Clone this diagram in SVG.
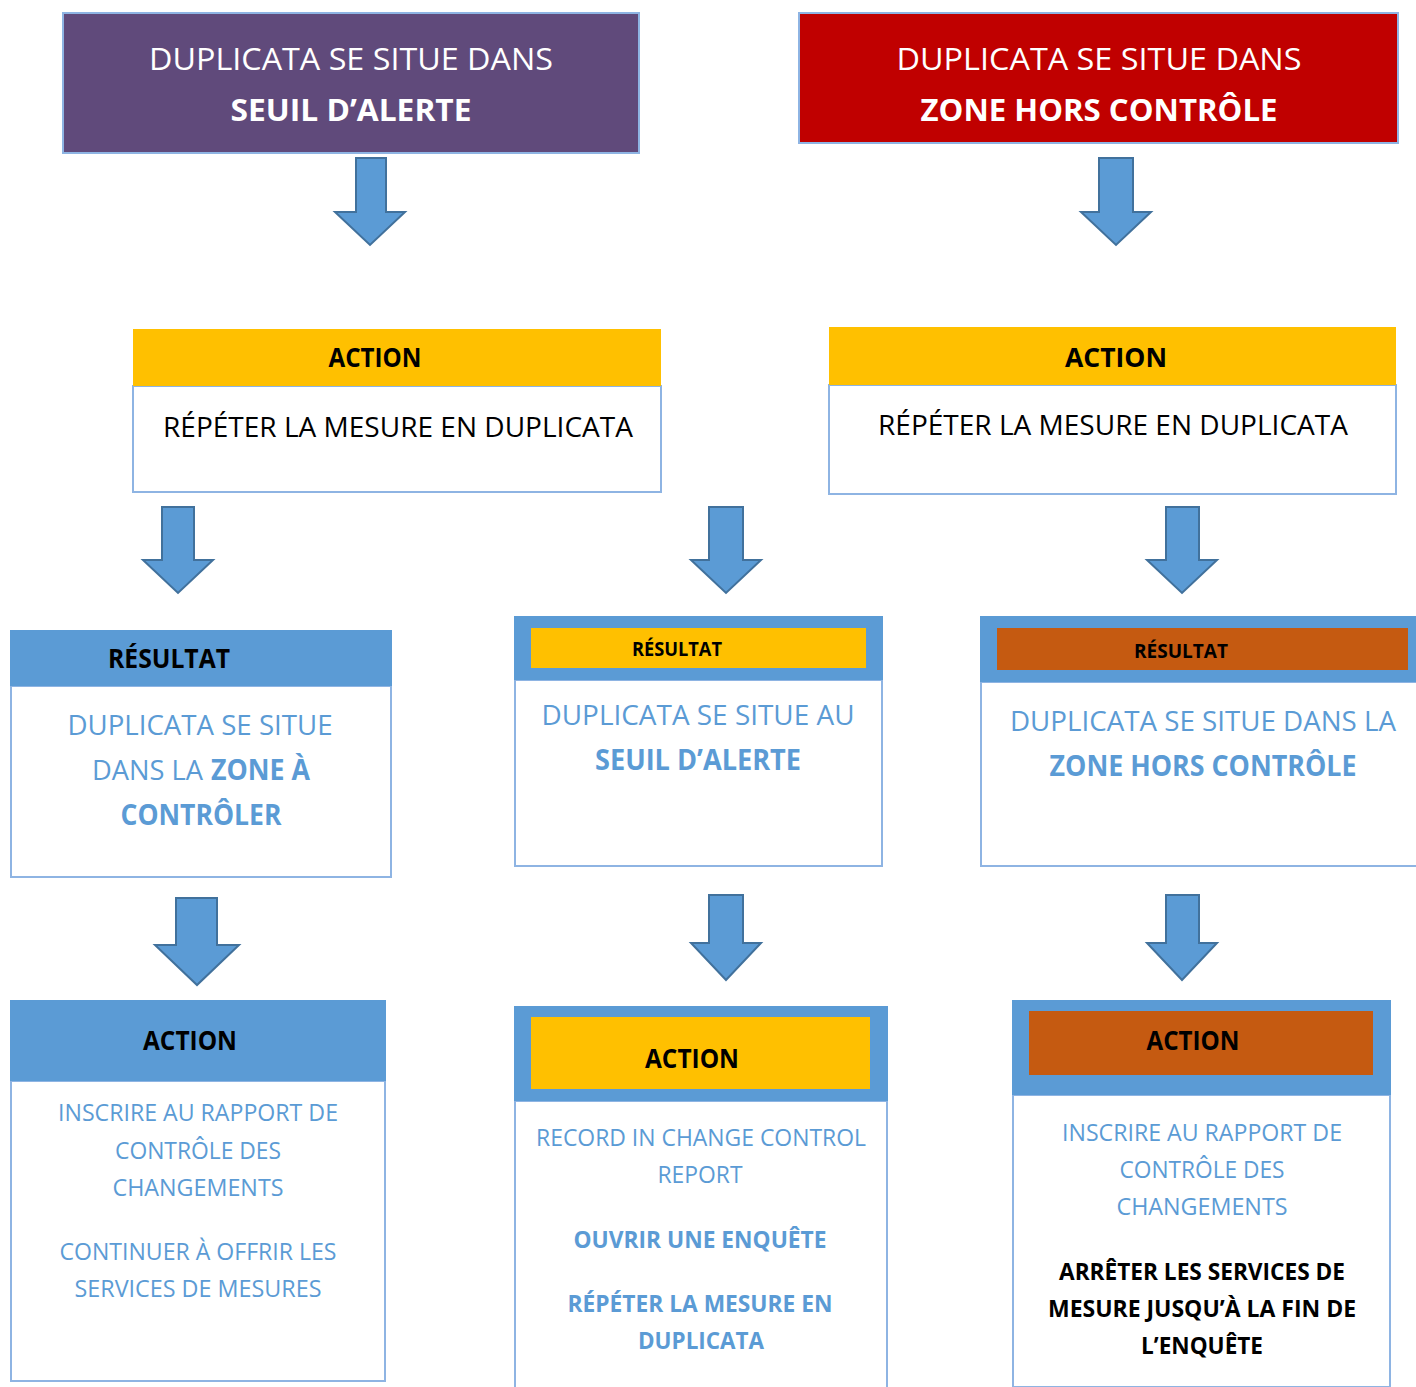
<svg xmlns="http://www.w3.org/2000/svg" width="1416" height="1387" viewBox="0 0 1416 1387">
<style>
text{font-family:"Open Sans","Liberation Sans",sans-serif}
.body{fill:#fff;stroke:#8EB4E3;stroke-width:2}
.blue{fill:#5B9BD5}
.amber{fill:#FFC000}
.rust{fill:#C55A11}
.arrow{fill:#5B9BD5;stroke:#41719C;stroke-width:2;stroke-linejoin:miter}
.w{fill:#fff}
.k{fill:#000}
.lb{fill:#5B9BD5}
.b{font-weight:700}
.top{font-size:31px}
.hd{font-size:27px;font-weight:700}
.sm{font-size:20px;font-weight:700}
.r3{font-size:28px}
.r4{font-size:24px}
.r2{font-size:28px}
</style>
<rect width="1416" height="1387" fill="#fff"/>

<g id="n_seuil_alerte">
<rect x="63" y="13" width="576" height="140" fill="#604A7B" stroke="#8EB4E3" stroke-width="2"/>
<text class="top w" x="351" y="70" text-anchor="middle" textLength="404" lengthAdjust="spacingAndGlyphs">DUPLICATA SE SITUE DANS</text>
<text class="top w b" x="351" y="121" text-anchor="middle" textLength="241" lengthAdjust="spacingAndGlyphs">SEUIL D’ALERTE</text>
</g>

<g id="n_hors_controle">
<rect x="799" y="13" width="599" height="130" fill="#C00000" stroke="#8EB4E3" stroke-width="2"/>
<text class="top w" x="1099" y="70" text-anchor="middle" textLength="405" lengthAdjust="spacingAndGlyphs">DUPLICATA SE SITUE DANS</text>
<text class="top w b" x="1099" y="121" text-anchor="middle" textLength="357" lengthAdjust="spacingAndGlyphs">ZONE HORS CONTRÔLE</text>
</g>

<g id="n_action_left">
<rect class="body" x="133" y="386" width="528" height="106"/>
<rect class="amber" x="133" y="329" width="528" height="57"/>
<text class="hd k" x="375" y="367" text-anchor="middle" textLength="93" lengthAdjust="spacingAndGlyphs">ACTION</text>
<text class="r2 k" x="398" y="437" text-anchor="middle" textLength="470" lengthAdjust="spacingAndGlyphs">RÉPÉTER LA MESURE EN DUPLICATA</text>
</g>

<g id="n_action_right">
<rect class="body" x="829" y="385" width="567" height="109"/>
<rect class="amber" x="829" y="327" width="567" height="58"/>
<text class="hd k" x="1116" y="367" text-anchor="middle" textLength="102" lengthAdjust="spacingAndGlyphs">ACTION</text>
<text class="r2 k" x="1113" y="435" text-anchor="middle" textLength="470" lengthAdjust="spacingAndGlyphs">RÉPÉTER LA MESURE EN DUPLICATA</text>
</g>

<g id="n_result_left">
<rect class="body" x="11" y="686" width="380" height="191"/>
<rect class="blue" x="10" y="630" width="382" height="56"/>
<text class="hd k" x="169" y="668" text-anchor="middle" textLength="122" lengthAdjust="spacingAndGlyphs">RÉSULTAT</text>
<text class="r3 lb" x="200" y="735" text-anchor="middle" textLength="265" lengthAdjust="spacingAndGlyphs">DUPLICATA SE SITUE</text>
<text class="r3 lb" x="92" y="780" textLength="111" lengthAdjust="spacingAndGlyphs">DANS LA</text>
<text class="r3 lb b" x="211" y="780" textLength="99" lengthAdjust="spacingAndGlyphs">ZONE À</text>
<text class="r3 lb b" x="201" y="825" text-anchor="middle" textLength="161" lengthAdjust="spacingAndGlyphs">CONTRÔLER</text>
</g>

<g id="n_result_mid">
<rect class="body" x="515" y="680" width="367" height="186"/>
<rect class="blue" x="514" y="616" width="369" height="64"/>
<rect class="amber" x="531" y="628" width="335" height="40"/>
<text class="sm k" x="677" y="656" text-anchor="middle" textLength="90" lengthAdjust="spacingAndGlyphs">RÉSULTAT</text>
<text class="r3 lb" x="698" y="725" text-anchor="middle" textLength="313" lengthAdjust="spacingAndGlyphs">DUPLICATA SE SITUE AU</text>
<text class="r3 lb b" x="698" y="770" text-anchor="middle" textLength="206" lengthAdjust="spacingAndGlyphs">SEUIL D’ALERTE</text>
</g>

<g id="n_result_right">
<rect class="body" x="981" y="682" width="445" height="184"/>
<rect class="blue" x="980" y="616" width="446" height="66"/>
<rect class="rust" x="997" y="628" width="411" height="42"/>
<text class="sm k" x="1181" y="658" text-anchor="middle" textLength="94" lengthAdjust="spacingAndGlyphs">RÉSULTAT</text>
<text class="r3 lb" x="1203" y="731" text-anchor="middle" textLength="386" lengthAdjust="spacingAndGlyphs">DUPLICATA SE SITUE DANS LA</text>
<text class="r3 lb b" x="1203" y="776" text-anchor="middle" textLength="307" lengthAdjust="spacingAndGlyphs">ZONE HORS CONTRÔLE</text>
</g>

<g id="n_action2_left">
<rect class="body" x="11" y="1081" width="374" height="300"/>
<rect class="blue" x="10" y="1000" width="376" height="81"/>
<text class="hd k" x="190" y="1050" text-anchor="middle" textLength="94" lengthAdjust="spacingAndGlyphs">ACTION</text>
<text class="r4 lb" x="198" y="1121" text-anchor="middle" textLength="280" lengthAdjust="spacingAndGlyphs">INSCRIRE AU RAPPORT DE</text>
<text class="r4 lb" x="198" y="1159" text-anchor="middle" textLength="166" lengthAdjust="spacingAndGlyphs">CONTRÔLE DES</text>
<text class="r4 lb" x="198" y="1196" text-anchor="middle" textLength="171" lengthAdjust="spacingAndGlyphs">CHANGEMENTS</text>
<text class="r4 lb" x="198" y="1260" text-anchor="middle" textLength="277" lengthAdjust="spacingAndGlyphs">CONTINUER À OFFRIR LES</text>
<text class="r4 lb" x="198" y="1297" text-anchor="middle" textLength="247" lengthAdjust="spacingAndGlyphs">SERVICES DE MESURES</text>
</g>

<g id="n_action2_mid">
<rect class="body" x="515" y="1101" width="372" height="296"/>
<rect class="blue" x="514" y="1006" width="374" height="95"/>
<rect class="amber" x="531" y="1017" width="339" height="72"/>
<text class="hd k" x="692" y="1068" text-anchor="middle" textLength="94" lengthAdjust="spacingAndGlyphs">ACTION</text>
<text class="r4 lb" x="701" y="1146" text-anchor="middle" textLength="330" lengthAdjust="spacingAndGlyphs">RECORD IN CHANGE CONTROL</text>
<text class="r4 lb" x="700" y="1183" text-anchor="middle" textLength="85" lengthAdjust="spacingAndGlyphs">REPORT</text>
<text class="r4 lb b" x="700" y="1248" text-anchor="middle" textLength="253" lengthAdjust="spacingAndGlyphs">OUVRIR UNE ENQUÊTE</text>
<text class="r4 lb b" x="700" y="1312" text-anchor="middle" textLength="265" lengthAdjust="spacingAndGlyphs">RÉPÉTER LA MESURE EN</text>
<text class="r4 lb b" x="701" y="1349" text-anchor="middle" textLength="126" lengthAdjust="spacingAndGlyphs">DUPLICATA</text>
</g>

<g id="n_action2_right">
<rect class="body" x="1013" y="1095" width="377" height="292"/>
<rect class="blue" x="1012" y="1000" width="379" height="95"/>
<rect class="rust" x="1029" y="1011" width="344" height="64"/>
<text class="hd k" x="1193" y="1050" text-anchor="middle" textLength="93" lengthAdjust="spacingAndGlyphs">ACTION</text>
<text class="r4 lb" x="1202" y="1141" text-anchor="middle" textLength="280" lengthAdjust="spacingAndGlyphs">INSCRIRE AU RAPPORT DE</text>
<text class="r4 lb" x="1202" y="1178" text-anchor="middle" textLength="165" lengthAdjust="spacingAndGlyphs">CONTRÔLE DES</text>
<text class="r4 lb" x="1202" y="1215" text-anchor="middle" textLength="171" lengthAdjust="spacingAndGlyphs">CHANGEMENTS</text>
<text class="r4 k b" x="1202" y="1280" text-anchor="middle" textLength="286" lengthAdjust="spacingAndGlyphs">ARRÊTER LES SERVICES DE</text>
<text class="r4 k b" x="1202" y="1317" text-anchor="middle" textLength="308" lengthAdjust="spacingAndGlyphs">MESURE JUSQU’À LA FIN DE</text>
<text class="r4 k b" x="1202" y="1354" text-anchor="middle" textLength="122" lengthAdjust="spacingAndGlyphs">L’ENQUÊTE</text>
</g>

<g id="connectors">
<path class="arrow" d="M356 158H386V212H405L370 245L335 212H356Z"/>
<path class="arrow" d="M1099 158H1133V212H1151L1116 245L1081 212H1099Z"/>
<path class="arrow" d="M162 507H194V560H213L178 593L143 560H162Z"/>
<path class="arrow" d="M709 507H743V560H761L726 593L691 560H709Z"/>
<path class="arrow" d="M1166 507H1199V560H1217L1182 593L1147 560H1166Z"/>
<path class="arrow" d="M176 898H217V945H239L197 985L155 945H176Z"/>
<path class="arrow" d="M709 895H743V943H761L726 980L691 943H709Z"/>
<path class="arrow" d="M1166 895H1199V943H1217L1182 980L1147 943H1166Z"/>
</g>
</svg>
